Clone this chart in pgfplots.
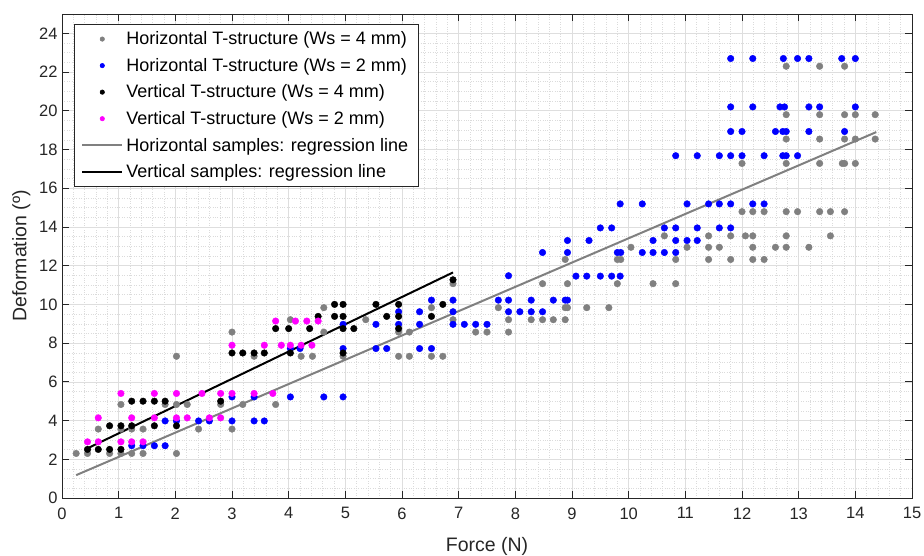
\documentclass[border=0pt]{standalone}
\usepackage{fontspec}
\setmainfont{Liberation Sans}
\usepackage{pgfplots}
\pgfplotsset{compat=1.18}
\definecolor{mgray}{rgb}{0.5,0.5,0.5}
\definecolor{mblue}{rgb}{0,0,1}
\definecolor{mmag}{rgb}{1,0,1}
\definecolor{axgray}{rgb}{0.15,0.15,0.15}
\definecolor{gridmaj}{rgb}{0.87,0.87,0.87}
\definecolor{gridmin}{rgb}{0.86,0.86,0.86}
\begin{document}
\begin{tikzpicture}[x=1bp,y=1bp]
\useasboundingbox (0,0) rectangle (924,556);
\begin{axis}[
  at={(62bp,58bp)}, anchor=south west,
  scale only axis, width=850bp, height=484bp,
  xmin=0, xmax=15, ymin=0, ymax=25,
  xtick={0,1,...,15}, ytick={0,2,...,24},
  minor x tick num=4, minor y tick num=3,
  grid=both,
  major grid style={gridmaj, line width=0.6bp},
  minor grid style={gridmin, dotted, line width=0.5bp},
  tick align=inside, tick pos=both,
  major tick length=7bp, minor tick length=0bp,
  axis line style={axgray, line width=0.8bp},
  every tick/.style={axgray, line width=0.8bp},
  /pgf/number format/assume math mode=true,
  tick label style={font=\fontsize{16.5bp}{19bp}\selectfont, text=axgray},
  xticklabel style={yshift=-6bp},
  yticklabel style={xshift=-1bp},
  label style={font=\fontsize{19.5bp}{22bp}\selectfont, text=axgray},
  xlabel={Force (N)}, ylabel={Deformation (º)},
  xlabel style={yshift=-11bp},
  ylabel style={yshift=2bp},
  legend cell align=left,
  legend style={at={(axis description cs:0.0141,0.9793)}, anchor=north west,
    draw=axgray, line width=0.6bp, fill=white,
    font=\fontsize{18bp}{21bp}\selectfont, row sep=11bp,
    inner xsep=7bp, inner ysep=7bp,
    nodes={inner xsep=3bp, inner ysep=0.5bp}},
  legend image code/.code={\draw[mark repeat=2,mark phase=2,#1] plot coordinates {(0bp,0bp) (20bp,0bp) (40bp,0bp)};},
  legend image post style={mark size=2.2bp},
]
% Horizontal T-structure (Ws = 4 mm)
\addplot[only marks, mark=*, mark size=3.3bp, mgray, draw=none, fill=mgray] coordinates {
(0.25,2.30) (0.45,2.30) (0.84,2.30) (1.04,2.30) (1.23,2.30) (1.43,2.30) (2.02,2.30)
(0.64,3.56) (1.04,3.56) (1.23,3.56) (1.43,3.56) (2.41,3.56) (3.00,3.56)
(1.04,4.83) (1.82,4.83) (2.02,4.83) (2.21,4.83) (2.80,4.83) (3.19,4.83) (3.77,4.83)
(2.02,7.32) (3.00,8.57) (3.39,7.32) (4.22,7.32) (4.42,7.32) (4.96,7.32) (5.94,7.32) (6.13,7.32) (6.52,7.32) (6.72,7.32)
(4.62,9.83) (4.03,9.21) (5.36,9.21) (4.62,8.57) (5.94,8.57) (6.13,8.57)
(6.90,11.07) (6.52,9.83) (7.70,9.83) (6.90,9.21) (7.88,9.21) (8.28,9.21) (8.48,9.21) (8.67,9.21) (8.88,9.21) (7.30,8.57) (7.50,8.57) (7.88,8.57)
(8.48,11.07) (8.92,11.07) (9.80,11.07) (10.43,11.07) (10.83,11.07)
(8.88,9.83) (8.92,9.83) (9.26,9.83) (9.65,9.83)
(8.88,12.32) (9.80,12.32) (9.86,12.32) (10.83,12.32) (11.41,12.32) (11.80,12.32) (12.19,12.32) (12.39,12.32)
(10.04,12.95) (11.03,12.95) (11.41,12.95) (11.60,12.95) (12.19,12.95) (12.59,12.95) (12.78,12.95) (13.18,12.95)
(10.63,13.54) (11.41,13.54) (11.80,13.54) (12.06,13.54) (12.19,13.54) (12.78,13.54) (13.56,13.54)
(12.00,14.79) (12.19,14.79) (12.39,14.79) (12.78,14.79) (12.98,14.79) (13.37,14.79) (13.56,14.79) (13.81,14.79)
(12.00,17.28) (12.78,17.28) (13.37,17.28) (13.77,17.28) (13.81,17.28) (14.00,17.28)
(12.78,18.54) (13.37,18.54) (13.81,18.54) (14.00,18.54) (14.35,18.54)
(12.78,19.80) (13.37,19.80) (13.81,19.80) (14.00,19.80) (14.35,19.80)
(12.78,22.30) (13.37,22.30) (13.81,22.30)
};
\addlegendentry{Horizontal T-structure (Ws = 4 mm)}
% Horizontal T-structure (Ws = 2 mm)
\addplot[only marks, mark=*, mark size=3.3bp, mblue, draw=none, fill=mblue] coordinates {
(1.23,2.70) (1.43,2.70) (1.63,2.70) (1.82,2.70)
(1.82,3.98) (2.02,3.98) (2.41,3.98) (2.60,3.98) (3.00,3.98) (3.39,3.98) (3.57,3.98)
(3.00,5.22) (3.39,5.22) (4.03,5.22) (4.62,5.22) (4.96,5.22)
(4.03,7.72) (4.20,7.72) (4.96,7.72) (5.54,7.72) (5.73,7.72) (6.31,7.72) (6.52,7.72)
(4.96,8.97) (5.54,8.97) (5.94,8.97) (6.31,8.97) (6.90,8.97) (7.10,8.97) (7.30,8.97) (7.50,8.97)
(5.94,9.62) (6.31,9.62) (6.90,9.62) (7.88,9.62) (8.08,9.62) (8.28,9.62) (8.48,9.62)
(6.52,10.22) (6.90,10.22) (7.70,10.22) (7.88,10.22) (8.28,10.22) (8.67,10.22) (8.88,10.22) (8.92,10.22)
(7.88,11.48) (9.07,11.46) (9.26,11.46) (9.50,11.46) (9.70,11.46) (9.85,11.46)
(8.48,12.68) (8.92,12.68) (9.80,12.68) (9.86,12.68) (10.24,12.68) (10.43,12.68) (10.63,12.68) (10.83,12.68)
(8.92,13.30) (9.30,13.30) (10.43,13.30) (10.83,13.30) (11.03,13.30) (11.21,13.30)
(9.50,13.95) (9.70,13.95) (10.63,13.95) (10.83,13.95) (11.21,13.95) (11.60,13.95) (11.80,13.95)
(9.85,15.19) (10.24,15.19) (11.03,15.19) (11.41,15.19) (11.60,15.19) (11.80,15.19) (12.19,15.19) (12.39,15.19)
(10.83,17.68) (11.21,17.68) (11.60,17.68) (11.80,17.68) (12.00,17.68) (12.39,17.68) (12.72,17.68) (12.78,17.68) (12.98,17.68)
(11.80,18.93) (12.00,18.93) (12.59,18.93) (12.72,18.93) (12.78,18.93) (13.18,18.93) (13.81,18.93)
(11.80,20.20) (12.19,20.20) (12.67,20.20) (12.75,20.20) (13.18,20.20) (13.37,20.20) (14.00,20.20)
(11.80,22.70) (12.19,22.70) (12.73,22.70) (12.98,22.70) (13.18,22.70) (13.76,22.70) (14.00,22.70)
};
\addlegendentry{Horizontal T-structure (Ws = 2 mm)}
% Vertical T-structure (Ws = 4 mm)
\addplot[only marks, mark=*, mark size=3.3bp, black, draw=none, fill=black] coordinates {
(0.45,2.51) (0.64,2.51) (0.84,2.51) (1.04,2.51)
(0.84,3.73) (1.04,3.73) (1.23,3.73) (1.63,3.73) (2.02,3.73)
(1.23,5.00) (1.43,5.00) (1.63,5.00) (1.82,5.00) (2.80,5.00)
(3.00,7.49) (3.19,7.49) (3.39,7.49) (3.57,7.49) (4.03,7.49) (4.96,7.49)
(3.77,8.75) (4.00,8.75) (4.37,8.75) (4.96,8.75) (5.15,8.75) (5.94,8.75)
(4.52,9.38) (4.81,9.38) (4.96,9.38) (5.73,9.38) (5.94,9.38) (6.52,9.38)
(4.81,10.00) (4.96,10.00) (5.54,10.00) (5.94,10.00) (6.72,10.00)
(6.90,11.27)
};
\addlegendentry{Vertical T-structure (Ws = 4 mm)}
% Vertical T-structure (Ws = 2 mm)
\addplot[only marks, mark=*, mark size=3.3bp, mmag, draw=none, fill=mmag] coordinates {
(0.45,2.90) (0.64,2.90) (1.04,2.90) (1.23,2.90) (1.43,2.90)
(0.64,4.14) (1.23,4.14) (1.63,4.14) (2.02,4.14) (2.21,4.14) (2.60,4.14) (2.80,4.14)
(1.04,5.40) (1.63,5.40) (2.02,5.40) (2.47,5.40) (2.80,5.40) (3.00,5.40) (3.39,5.40) (3.72,5.40)
(3.00,7.89) (3.57,7.89) (3.87,7.89) (4.03,7.89) (4.22,7.89) (4.41,7.89)
(3.77,9.14) (4.12,9.14) (4.32,9.14) (4.52,9.14)
};
\addlegendentry{Vertical T-structure (Ws = 2 mm)}
\addplot[mgray, line width=2bp, no marks] coordinates {(0.25,1.18) (14.37,18.90)};
\addlegendentry{Horizontal samples: regression line}
\addplot[black, line width=2bp, no marks] coordinates {(0.44,2.55) (6.90,11.65)};
\addlegendentry{Vertical samples: regression line}
\end{axis}
\end{tikzpicture}
\end{document}
